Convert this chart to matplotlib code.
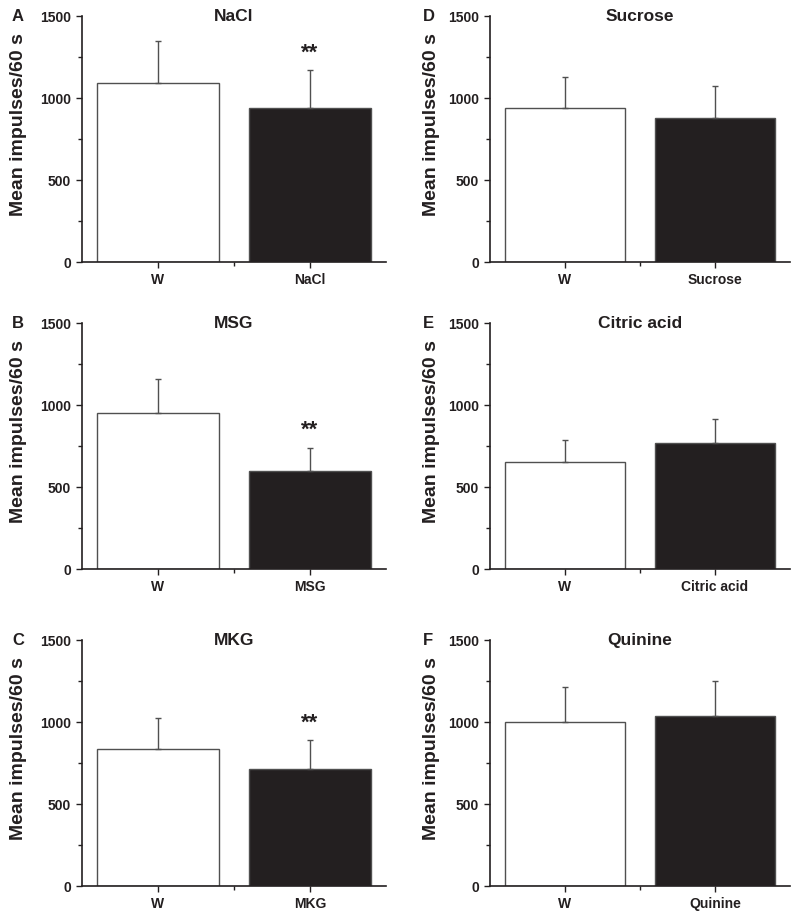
import numpy as np
import matplotlib
matplotlib.use('Agg')
import matplotlib.pyplot as plt
from matplotlib.ticker import MultipleLocator, FixedLocator

plt.rcParams['font.family'] = ['Liberation Sans', 'DejaVu Sans']
plt.rcParams['font.weight'] = 'bold'

# data
letters = ['A', 'B', 'C', 'D', 'E', 'F']
titles = ['NaCl', 'MSG', 'MKG', 'Sucrose', 'Citric acid', 'Quinine']
w_means = [1090, 953, 837, 937, 655, 998]
w_errs = [260, 206, 190, 190, 132, 216]
s_means = [939, 596, 715, 876, 767, 1036]
s_errs = [230, 145, 173, 195, 145, 213]
signif = [True, True, True, False, False, False]

ink = '#231f20'
edge = '#505050'

fig = plt.figure(figsize=(8, 9.11), dpi=100)

# axes boxes in figure fraction
lefts = [0.1025, 0.6125]
widths = [0.38, 0.375]
bottoms = [0.7124, 0.3754, 0.0274]
height = 0.27
letter_x = [0.015, 0.528]
ylab_x = [-0.18, -0.167]

for i in range(6):
    col = i // 3
    row = i % 3
    ax = fig.add_axes([lefts[col], bottoms[row], widths[col], height])

    x = [1, 2]
    means = [w_means[i], s_means[i]]
    errs = [w_errs[i], s_errs[i]]
    ax.bar(x, means, width=0.8, color=['white', ink], edgecolor=edge, linewidth=1, zorder=2)
    ax.errorbar(x, means, yerr=[[0, 0], errs], fmt='none', ecolor=edge,
                elinewidth=1, capsize=2, capthick=1, zorder=3)
    if signif[i]:
        ax.text(2, means[1] + errs[1] + 105, '**', ha='center', va='center',
                fontsize=16, fontweight='bold', color=ink)

    ax.set_xlim(0.5, 2.5)
    ax.set_ylim(0, 1500)
    ax.set_xticks(x)
    ax.set_xticklabels(['W', titles[i]])
    ax.xaxis.set_minor_locator(FixedLocator([1.5]))
    ax.yaxis.set_major_locator(MultipleLocator(500))
    ax.yaxis.set_minor_locator(MultipleLocator(250))
    ax.tick_params(axis='both', which='major', length=4, width=1, color=ink,
                   labelsize=10, labelcolor=ink, pad=4)
    ax.tick_params(axis='both', which='minor', length=3, width=1, color=ink)
    for lab in ax.get_xticklabels() + ax.get_yticklabels():
        lab.set_fontweight('bold')

    for s in ['top', 'right']:
        ax.spines[s].set_visible(False)
    for s in ['left', 'bottom']:
        ax.spines[s].set_linewidth(1.2)
        ax.spines[s].set_color(ink)

    ax.set_ylabel('Mean impulses/60 s', fontsize=14, fontweight='bold', color=ink)
    ax.yaxis.set_label_coords(ylab_x[col], 0.56)
    ax.text(0.5, 1.0, titles[i], transform=ax.transAxes, ha='center', va='center',
            fontsize=12.5, fontweight='bold', color=ink)

    top = bottoms[row] + height
    fig.text(letter_x[col], top, letters[i], ha='left', va='center',
             fontsize=12, fontweight='bold', color=ink)

fig.savefig('out.png', dpi=100)
